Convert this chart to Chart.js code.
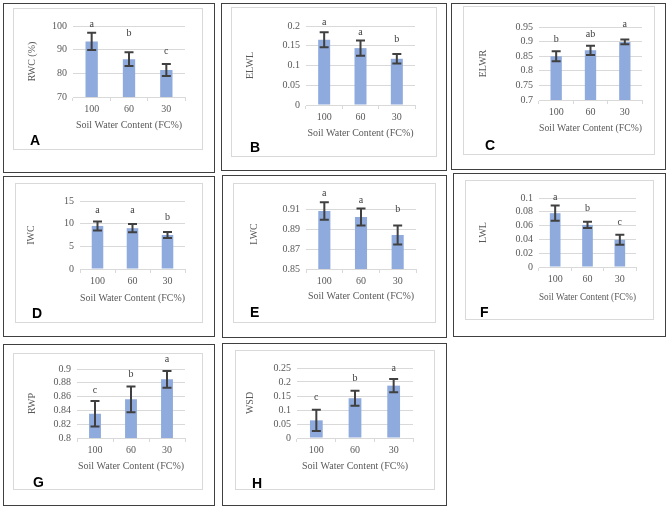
<!DOCTYPE html>
<html>
<head>
<meta charset="utf-8">
<script src="https://cdn.jsdelivr.net/npm/chart.js@4.4.0/dist/chart.umd.min.js"></script>
<style>
  body { margin: 0; background: #fff; width: 669px; height: 509px; position: relative; overflow: hidden; }
  .frame { position: absolute; box-sizing: border-box; border: 1px solid #404040; }
  .area { position: absolute; box-sizing: border-box; border: 1px solid #d9d9d9; pointer-events: none; }
  .plot { position: absolute; }
  .tag { position: absolute; font: bold 14px "Liberation Sans", Arial, sans-serif; line-height: 1; color: #000; }
</style>
</head>
<body>
<script>
'use strict';

const categories = ['100', '60', '30'];
const xTitle = 'Soil Water Content (FC%)';

// A - RWC
const rwcValues = [93.5, 86.0, 81.4];
const rwcErrors = [3.6, 2.9, 2.5];
const rwcLetters = ['a', 'b', 'c'];
const rwcLetterAt = [100.8, 97.0, 89.4];
const rwcTicks = [70, 80, 90, 100];

// B - ELWL
const elwlValues = [0.165, 0.144, 0.117];
const elwlErrors = [0.019, 0.019, 0.012];
const elwlLetters = ['a', 'a', 'b'];
const elwlLetterAt = [0.208, 0.184, 0.165];
const elwlTicks = [0, 0.05, 0.1, 0.15, 0.2];

// C - ELWR
const elwrValues = [0.850, 0.870, 0.899];
const elwrErrors = [0.017, 0.016, 0.008];
const elwrLetters = ['b', 'ab', 'a'];
const elwrLetterAt = [0.908, 0.925, 0.958];
const elwrTicks = [0.7, 0.75, 0.8, 0.85, 0.9, 0.95];

// D - IWC
const iwcValues = [9.5, 9.0, 7.5];
const iwcErrors = [1.0, 0.9, 0.65];
const iwcLetters = ['a', 'a', 'b'];
const iwcLetterAt = [12.9, 12.9, 11.3];
const iwcTicks = [0, 5, 10, 15];

// E - LWC
const lwcValues = [0.908, 0.902, 0.884];
const lwcErrors = [0.0087, 0.0085, 0.0095];
const lwcLetters = ['a', 'a', 'b'];
const lwcLetterAt = [0.926, 0.919, 0.910];
const lwcTicks = [0.85, 0.87, 0.89, 0.91];
const lwcMax = 0.92;

// F - LWL
const lwlValues = [0.078, 0.061, 0.0395];
const lwlErrors = [0.011, 0.0045, 0.0073];
const lwlLetters = ['a', 'b', 'c'];
const lwlLetterAt = [0.1015, 0.0855, 0.0652];
const lwlTicks = [0, 0.02, 0.04, 0.06, 0.08, 0.1];

// G - RWP
const rwpValues = [0.835, 0.856, 0.885];
const rwpErrors = [0.0185, 0.0185, 0.012];
const rwpLetters = ['c', 'b', 'a'];
const rwpLetterAt = [0.8686, 0.8917, 0.9145];
const rwpTicks = [0.8, 0.82, 0.84, 0.86, 0.88, 0.9];

// H - WSD
const wsdValues = [0.063, 0.142, 0.187];
const wsdErrors = [0.038, 0.027, 0.024];
const wsdLetters = ['c', 'b', 'a'];
const wsdLetterAt = [0.145, 0.214, 0.25];
const wsdTicks = [0, 0.05, 0.1, 0.15, 0.2, 0.25];

// page layout: frame, plot-area box, inner plot rect, title centres, tag corner
const panels = [
  { tag: 'A', yTitle: 'RWC (%)', values: rwcValues, errors: rwcErrors, letters: rwcLetters, letterAt: rwcLetterAt, ticks: rwcTicks,
    frame: [3, 3, 215, 173], area: [13, 8, 203, 150], plot: [73, 26, 185, 97], yTitleX: 32, xTitleY: 125, tagAt: [30, 133] },
  { tag: 'B', yTitle: 'ELWL', values: elwlValues, errors: elwlErrors, letters: elwlLetters, letterAt: elwlLetterAt, ticks: elwlTicks,
    frame: [221, 3, 447, 171], area: [231, 7, 437, 157], plot: [306, 26, 415, 105], yTitleX: 250, xTitleY: 133, tagAt: [250, 140] },
  { tag: 'C', yTitle: 'ELWR', values: elwrValues, errors: elwrErrors, letters: elwrLetters, letterAt: elwrLetterAt, ticks: elwrTicks,
    frame: [451, 3, 666, 170], area: [463, 6, 655, 155], plot: [539, 27, 642, 100], yTitleX: 483, xTitleY: 128, tagAt: [485, 138] },
  { tag: 'D', yTitle: 'IWC', values: iwcValues, errors: iwcErrors, letters: iwcLetters, letterAt: iwcLetterAt, ticks: iwcTicks,
    frame: [3, 176, 215, 337], area: [15, 183, 203, 323], plot: [80, 201, 185, 269], yTitleX: 31, xTitleY: 298, tagAt: [32, 306] },
  { tag: 'E', yTitle: 'LWC', values: lwcValues, errors: lwcErrors, letters: lwcLetters, letterAt: lwcLetterAt, ticks: lwcTicks, max: lwcMax,
    frame: [222, 175, 447, 338], area: [233, 183, 436, 323], plot: [306, 199, 416, 269], yTitleX: 254, xTitleY: 296, tagAt: [250, 305] },
  { tag: 'F', yTitle: 'LWL', values: lwlValues, errors: lwlErrors, letters: lwlLetters, letterAt: lwlLetterAt, ticks: lwlTicks,
    frame: [453, 173, 666, 337], area: [465, 180, 654, 320], plot: [539, 198, 636, 267], yTitleX: 483, xTitleY: 297, tagAt: [480, 305] },
  { tag: 'G', yTitle: 'RWP', values: rwpValues, errors: rwpErrors, letters: rwpLetters, letterAt: rwpLetterAt, ticks: rwpTicks,
    frame: [3, 344, 215, 506], area: [13, 353, 203, 490], plot: [77, 369, 185, 438], yTitleX: 32, xTitleY: 466, tagAt: [33, 475] },
  { tag: 'H', yTitle: 'WSD', values: wsdValues, errors: wsdErrors, letters: wsdLetters, letterAt: wsdLetterAt, ticks: wsdTicks,
    frame: [222, 343, 447, 506], area: [235, 350, 435, 490], plot: [297, 368, 413, 438], yTitleX: 250, xTitleY: 466, tagAt: [252, 476] }
];

Chart.defaults.font.family = '"Liberation Serif", "Times New Roman", serif';
Chart.defaults.font.size = 10;
Chart.defaults.color = '#595959';

// draws the error bars and significance letters of the first dataset
const errorBars = {
  id: 'errorBars',
  afterDatasetsDraw(chart) {
    const {ctx} = chart;
    const y = chart.scales.y;
    const ds = chart.data.datasets[0];
    const meta = chart.getDatasetMeta(0);
    ctx.save();
    ctx.strokeStyle = '#404040';
    ctx.lineWidth = 2;
    meta.data.forEach((bar, i) => {
      const v = ds.data[i], e = ds.errors[i];
      const top = y.getPixelForValue(v + e);
      const bottom = y.getPixelForValue(v - e);
      ctx.beginPath();
      ctx.moveTo(bar.x, top);
      ctx.lineTo(bar.x, bottom);
      ctx.moveTo(bar.x - 4.5, top);
      ctx.lineTo(bar.x + 4.5, top);
      ctx.moveTo(bar.x - 4.5, bottom);
      ctx.lineTo(bar.x + 4.5, bottom);
      ctx.stroke();
    });
    ctx.fillStyle = '#404040';
    ctx.font = '10px "Liberation Serif", serif';
    ctx.textAlign = 'center';
    ctx.textBaseline = 'middle';
    ds.letters.forEach((t, i) => {
      ctx.fillText(t, meta.data[i].x, y.getPixelForValue(ds.letterAt[i]));
    });
    ctx.restore();
  }
};

function box(cls, r) {
  const d = document.createElement('div');
  d.className = cls;
  d.style.left = r[0] + 'px';
  d.style.top = r[1] + 'px';
  d.style.width = (r[2] - r[0]) + 'px';
  d.style.height = (r[3] - r[1]) + 'px';
  document.body.appendChild(d);
  return d;
}

panels.forEach(p => {
  box('frame', p.frame);
  const holder = box('plot', p.area);
  const canvas = document.createElement('canvas');
  holder.appendChild(canvas);
  box('area', p.area);

  const tag = document.createElement('div');
  tag.className = 'tag';
  tag.textContent = p.tag;
  tag.style.left = p.tagAt[0] + 'px';
  tag.style.top = p.tagAt[1] + 'px';
  document.body.appendChild(tag);

  const [aL, aT, aR, aB] = p.area;
  const [pL, pT, pR, pB] = p.plot;
  const yMax = p.max !== undefined ? p.max : p.ticks[p.ticks.length - 1];

  new Chart(canvas, {
    type: 'bar',
    data: {
      labels: categories,
      datasets: [{
        data: p.values,
        errors: p.errors,
        letters: p.letters,
        letterAt: p.letterAt,
        backgroundColor: '#8FAADC',
        barPercentage: 1,
        categoryPercentage: 0.33
      }]
    },
    options: {
      responsive: true,
      maintainAspectRatio: false,
      animation: false,
      layout: { padding: { top: pT - aT, right: aR - pR, left: 0, bottom: 0 } },
      plugins: { legend: { display: false }, tooltip: { enabled: false } },
      scales: {
        x: {
          grid: { offset: true, drawOnChartArea: false, drawTicks: true, tickLength: 4, color: '#d9d9d9' },
          border: { display: true, color: '#d9d9d9' },
          ticks: { padding: 2, autoSkip: false, maxRotation: 0 },
          title: { display: true, text: xTitle, padding: { top: 0, bottom: aB - p.xTitleY - 6 } },
          afterFit: s => { s.height = aB - pB; }
        },
        y: {
          min: p.ticks[0],
          max: yMax,
          grid: { drawTicks: false, color: '#d9d9d9' },
          border: { display: false },
          ticks: { padding: 6, autoSkip: false, callback: v => String(+Number(v).toFixed(4)) },
          afterBuildTicks: s => { s.ticks = p.ticks.map(v => ({ value: v })); },
          title: { display: true, text: p.yTitle, padding: { top: p.yTitleX - aL - 6, bottom: 0 } },
          afterFit: s => { s.width = pL - aL; }
        }
      }
    },
    plugins: [errorBars]
  });
});
</script>
</body>
</html>
